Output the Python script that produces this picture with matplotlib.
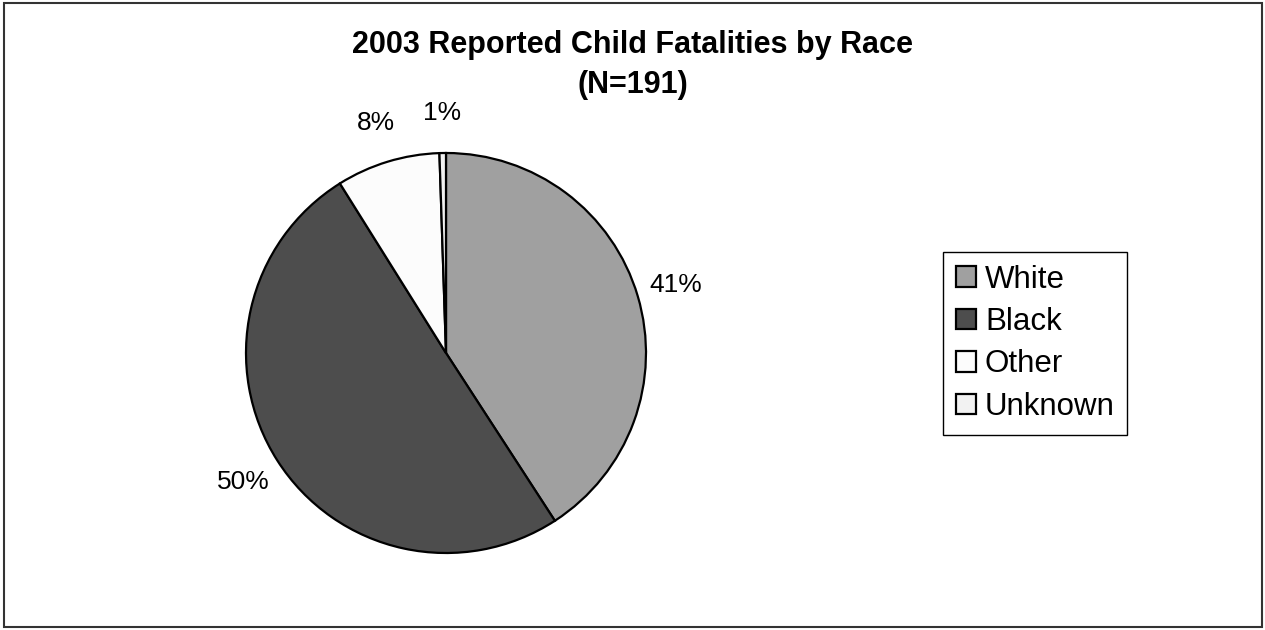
import matplotlib.pyplot as plt
from matplotlib.patches import Rectangle

# child fatalities by race, 2003
races = ["White", "Black", "Other", "Unknown"]
counts = [78, 96, 16, 1]
colors = ["#A0A0A0", "#4D4D4D", "#FCFCFC", "#F2F2F2"]

title1 = "2003 Reported Child Fatalities by Race"
title2 = "(N=%d)" % sum(counts)

W, H = 1265, 630
fig = plt.figure(figsize=(W / 100, H / 100), dpi=100)
fig.patch.set_facecolor("white")

# outer chart border
fig.patches.append(Rectangle((4 / W, 3 / H), 1258 / W, 624 / H, transform=fig.transFigure,
                             fill=False, edgecolor="#333333", linewidth=1.5))

ax = fig.add_axes([246 / W, 77 / H, 400 / W, 400 / H])
wedges, texts, pcts = ax.pie(counts, colors=colors, startangle=90, counterclock=False,
                             autopct="%.0f%%", pctdistance=1.2,
                             wedgeprops=dict(edgecolor="black", linewidth=1.6, clip_on=False),
                             textprops=dict(fontsize=19, family="Liberation Sans"))
ax.set_xlim(-1, 1)
ax.set_ylim(-1, 1)

fig.text(0.5, 1 - 53.3 / H, title1, ha="center", va="baseline", fontsize=22,
         fontweight="bold", family="Liberation Sans")
fig.text(0.5, 1 - 93.3 / H, title2, ha="center", va="baseline", fontsize=22,
         fontweight="bold", family="Liberation Sans")

leg = fig.legend(wedges, races, loc="upper left", bbox_to_anchor=(943 / W, 1 - 252 / H),
                 frameon=True, fancybox=False, framealpha=1, edgecolor="black",
                 handlelength=0.64, handleheight=0.64, handletextpad=0.3,
                 labelspacing=0.40, borderpad=0.40, borderaxespad=0,
                 prop=dict(family="Liberation Sans", size=22.5))
leg.get_frame().set_linewidth(1.0)

fig.savefig("out.png", dpi=100)
